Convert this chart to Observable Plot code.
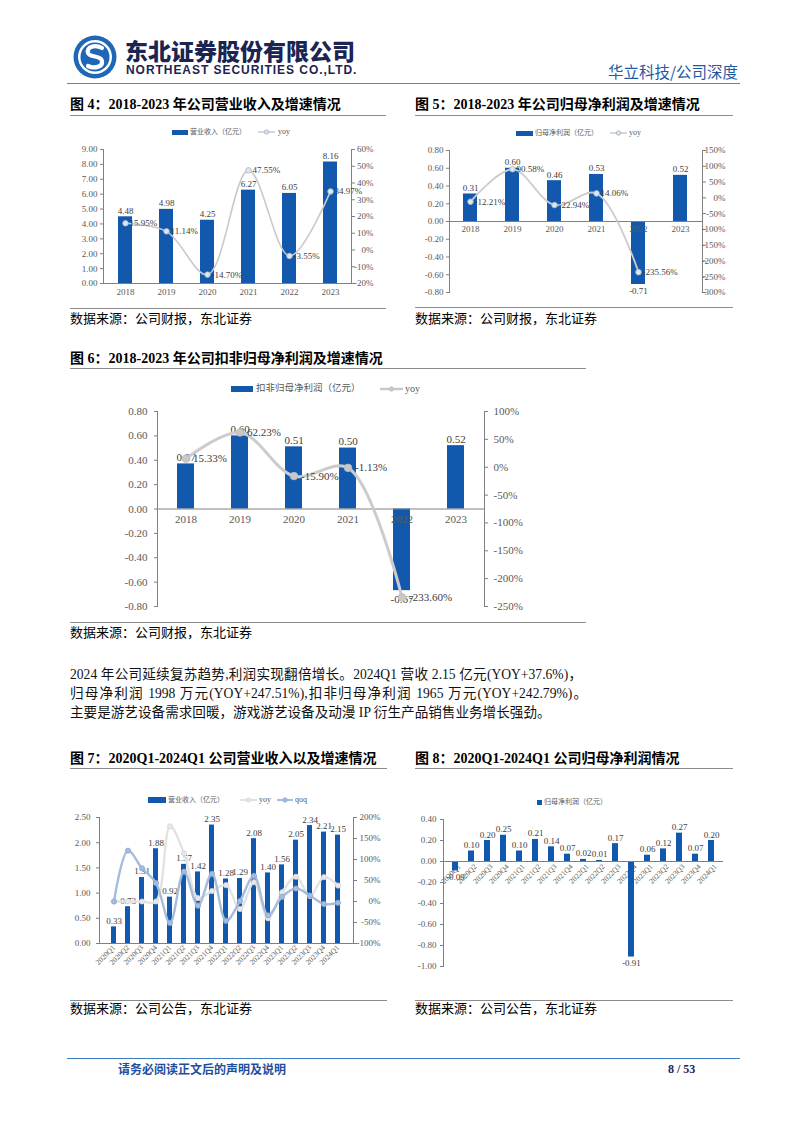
<!DOCTYPE html>
<html>
<head>
<meta charset="utf-8">
<script src="https://cdn.jsdelivr.net/npm/d3@7"></script>
<script src="https://cdn.jsdelivr.net/npm/@observablehq/plot@0.6"></script>
<style>
  html, body { margin: 0; padding: 0; background: #fff; }
  #page { position: relative; width: 802px; height: 1133px; overflow: hidden; background: #fff;
          font-family: "Liberation Serif", "Noto Sans CJK SC", serif; color: #000; }
  .t { position: absolute; white-space: nowrap; }
  .hr { position: absolute; height: 0; }
</style>
</head>
<body>
<div id="page"></div>
<script>
// ---------------- data ----------------
const years = ["2018", "2019", "2020", "2021", "2022", "2023"];
const revenue = [4.48, 4.98, 4.25, 6.27, 6.05, 8.16];
const revenueYoy = [15.95, 11.14, -14.70, 47.55, -3.55, 34.97];

const netProfit = [0.31, 0.60, 0.46, 0.53, -0.71, 0.52];
const yoyYears = ["2018", "2019", "2020", "2021", "2022"];
const netProfitYoy = [-12.21, 90.58, -22.94, 14.06, -235.56];

const deductedProfit = [0.37, 0.60, 0.51, 0.50, -0.67, 0.52];
const deductedYoy = [15.33, 62.23, -15.90, -1.13, -233.60];

const quarters = ["2020Q1", "2020Q2", "2020Q3", "2020Q4", "2021Q1", "2021Q2", "2021Q3", "2021Q4",
  "2022Q1", "2022Q2", "2022Q3", "2022Q4", "2023Q1", "2023Q2", "2023Q3", "2023Q4", "2024Q1"];
const qRevenue = [0.33, 0.73, 1.31, 1.88, 0.92, 1.57, 1.42, 2.35, 1.28, 1.29, 2.08, 1.40, 1.56, 2.05, 2.34, 2.21, 2.15];
const qRevenueYoy = [0, 0, 0, 0, 179, 115, 8, 25, 39, -18, 46, -40, 22, 59, 13, 58, 38];
const qRevenueQoq = [0, 121, 79, 44, -51, 71, -10, 66, -46, 1, 61, -33, 11, 31, 14, -6, -3];
const qNetProfit = [-0.09, 0.10, 0.20, 0.25, 0.10, 0.21, 0.14, 0.07, 0.02, 0.01, 0.17, -0.91, 0.06, 0.12, 0.27, 0.07, 0.20];

// tick labels
const ticksRev = [0, 1, 2, 3, 4, 5, 6, 7, 8, 9];
const ticksRevYoy = [-20, -10, 0, 10, 20, 30, 40, 50, 60];
const ticksProfit = [-0.8, -0.6, -0.4, -0.2, 0, 0.2, 0.4, 0.6, 0.8];
const ticksProfitYoy = [-300, -250, -200, -150, -100, -50, 0, 50, 100, 150];
const ticksDeductedYoy = [-250, -200, -150, -100, -50, 0, 50, 100];
const ticksQRev = [0, 0.5, 1, 1.5, 2, 2.5];
const ticksQRevPct = [-100, -50, 0, 50, 100, 150, 200];
const ticksQProfit = [-1, -0.8, -0.6, -0.4, -0.2, 0, 0.2, 0.4];

// ---------------- helpers ----------------
const FONT = '"Liberation Serif", "Noto Sans CJK SC", serif';
const BLUE = "#1259ae";
const AXIS = "#808080";
const LABEL = "#595959";
const page = document.getElementById("page");

function txt(s, x, yc, size, css) {
  const d = document.createElement("div");
  d.className = "t";
  d.textContent = s;
  d.style.cssText += `left:${x}px;top:${yc - size * 0.62}px;font-size:${size}px;line-height:${size * 1.24}px;` + (css || "");
  page.appendChild(d);
  return d;
}
function hline(x1, x2, y, color, w) {
  const d = document.createElement("div");
  d.className = "hr";
  d.style.cssText += `left:${x1}px;width:${x2 - x1}px;top:${y}px;border-top:${w}px solid ${color};`;
  page.appendChild(d);
}
function put(svg, x, y) {
  svg.style.position = "absolute";
  svg.style.left = x + "px";
  svg.style.top = y + "px";
  page.appendChild(svg);
}
function barSwatch(x, yc, w, h) {
  const d = document.createElement("div");
  d.style.cssText = `position:absolute;left:${x}px;top:${yc - h / 2}px;width:${w}px;height:${h}px;background:${BLUE};`;
  page.appendChild(d);
}
function lineSwatch(x, yc, w, color, dotFill, dotStroke, sw) {
  const ns = "http://www.w3.org/2000/svg";
  const s = document.createElementNS(ns, "svg");
  s.setAttribute("width", w); s.setAttribute("height", 8);
  s.style.cssText = `position:absolute;left:${x}px;top:${yc - 4}px;overflow:visible`;
  s.innerHTML = `<line x1="0" y1="4" x2="${w}" y2="4" stroke="${color}" stroke-width="${sw}"/>` +
    `<circle cx="${w / 2}" cy="4" r="2.2" fill="${dotFill}" stroke="${dotStroke}" stroke-width="0.8"/>`;
  page.appendChild(s);
}

// base chart: bars + left axis
function baseChart(o) {
  const data = o.cats.map((c, i) => ({c, v: o.vals[i]}));
  const marks = [
    Plot.axisY({ticks: o.lTicks, tickFormat: d => d.toFixed(2), tickSize: 3, tickPadding: o.lpad, fill: LABEL, label: null}),
    Plot.frame({anchor: "left", stroke: AXIS})
  ];
  if (o.xMode === "bottom") {
    marks.push(Plot.axisX({tickSize: 0, tickPadding: o.xpad, fill: LABEL, label: null}));
  } else if (o.xMode === "rotBottom") {
    marks.push(Plot.axisX({tickSize: 0, tickPadding: o.xpad, tickRotate: -45, fill: LABEL, fontSize: o.xfs, label: null}));
  } else if (o.xMode === "rotZero") {
    marks.push(Plot.text(data, {x: "c", y: () => 0, text: "c", rotate: -45, textAnchor: "end", dx: 4, dy: 4, fill: LABEL, fontSize: o.xfs}));
  }
  marks.push(Plot.barY(data, {x: "c", y: "v", fill: BLUE}));
  marks.push(Plot.ruleY([0], {stroke: AXIS}));
  if (o.xMode === "zero") {
    marks.push(Plot.text(data, {x: "c", y: () => 0, text: "c", lineAnchor: "top", dy: o.xpad, fill: LABEL}));
  }
  marks.push(Plot.text(data, {filter: d => d.v >= 0, x: "c", y: "v", text: d => d.v.toFixed(2), lineAnchor: "bottom", dy: -3, fill: "#404040"}));
  marks.push(Plot.text(data, {filter: d => d.v < 0, x: "c", y: "v", text: d => d.v.toFixed(2), lineAnchor: "top", dy: o.negDy, fill: "#404040"}));
  const svg = Plot.plot({
    width: o.w, height: o.h, marginLeft: o.ml, marginRight: o.mr, marginTop: o.mt, marginBottom: o.mb,
    style: {fontFamily: FONT, fontSize: o.fs + "px", color: AXIS, background: "transparent", overflow: "visible"},
    x: {type: "band", domain: o.cats, paddingInner: o.pad, paddingOuter: o.pad / 2, label: null, ...(o.xMode === "bottom" || o.xMode === "rotBottom" ? {} : {axis: null})},
    y: {domain: o.lDomain, label: null},
    marks
  });
  put(svg, o.x, o.y);
}

// overlay chart: percentage lines + right axis
function overlayChart(o) {
  const marks = [
    Plot.axisY({anchor: "right", ticks: o.rTicks, tickFormat: d => d + "%", tickSize: 3, tickPadding: o.rpad, textAnchor: o.rAnchor, fill: LABEL, label: null}),
    Plot.frame({anchor: "right", stroke: AXIS})
  ];
  for (const s of o.series) {
    const data = s.cats.map((c, i) => ({c, v: s.vals[i]}));
    marks.push(Plot.line(data, {x: "c", y: "v", curve: "catmull-rom", stroke: s.color, strokeWidth: s.sw}));
    marks.push(Plot.dot(data, {x: "c", y: "v", r: s.r, fill: s.dotFill, stroke: s.dotStroke, strokeWidth: 0.8}));
    if (s.labels) {
      marks.push(Plot.text(data, {x: "c", y: "v", text: d => d.v.toFixed(2) + "%", textAnchor: "start", dx: s.ldx, fill: "#404040"}));
    }
  }
  const svg = Plot.plot({
    width: o.w, height: o.h, marginLeft: o.ml, marginRight: o.mr, marginTop: o.mt, marginBottom: o.mb,
    style: {fontFamily: FONT, fontSize: o.fs + "px", color: AXIS, background: "transparent", overflow: "visible"},
    x: {type: "band", domain: o.cats, paddingInner: o.pad, paddingOuter: o.pad / 2, axis: null, label: null},
    y: {domain: o.rDomain, label: null},
    marks
  });
  put(svg, o.x, o.y);
}

// ---------------- header ----------------
(function header() {
  const ns = "http://www.w3.org/2000/svg";
  const s = document.createElementNS(ns, "svg");
  s.setAttribute("width", 44); s.setAttribute("height", 44);
  s.style.cssText = "position:absolute;left:73px;top:35px";
  s.innerHTML = `<circle cx="22" cy="22" r="21.5" fill="#1f66b6"/>
    <circle cx="22" cy="22" r="17" fill="#fff"/>
    <circle cx="22" cy="22" r="14.5" fill="#1f66b6"/>
    <path d="M29 13 C22 9 13 12 15 18 C17 23 28 20 29 26 C30 32 21 34 15 31" stroke="#fff" stroke-width="4.2" fill="none" stroke-linecap="round"/>`;
  page.appendChild(s);
  txt("东北证券股份有限公司", 125, 52.5, 23, 'font-family:"Noto Sans CJK SC";font-weight:900;color:#1b2452;letter-spacing:0px;line-height:24px;');
  txt("NORTHEAST SECURITIES CO.,LTD.", 126, 71.5, 12, 'font-family:"Liberation Sans";font-weight:bold;color:#1b2452;letter-spacing:0.95px;line-height:13px;');
  txt("华立科技/公司深度", 608, 72, 15.5, 'font-family:"Noto Sans CJK SC";color:#1f5aa6;');
  hline(67, 740, 83, "#4a86c8", 1.5);
})();

// ---------------- titles, rules, sources ----------------
const TITLE_CSS = 'font-family:"Liberation Serif","Noto Sans CJK SC";font-weight:bold;color:#000;';
const SRC_CSS = 'font-family:"Liberation Serif","Noto Sans CJK SC";color:#000;';

txt("图 4：2018-2023 年公司营业收入及增速情况", 70, 105, 14, TITLE_CSS);
hline(70, 386, 115, "#8c8c8c", 1);
hline(70, 386, 308, "#8c8c8c", 1);
txt("数据来源：公司财报，东北证券", 70, 319, 13, SRC_CSS);

txt("图 5：2018-2023 年公司归母净利润及增速情况", 415, 105, 14, TITLE_CSS);
hline(415, 733, 115, "#8c8c8c", 1);
hline(415, 733, 307, "#8c8c8c", 1);
txt("数据来源：公司财报，东北证券", 415, 319, 13, SRC_CSS);

txt("图 6：2018-2023 年公司扣非归母净利润及增速情况", 70, 359, 14, TITLE_CSS);
hline(70, 586, 368, "#8c8c8c", 1);
hline(70, 586, 622, "#8c8c8c", 1);
txt("数据来源：公司财报，东北证券", 70, 633, 13, SRC_CSS);

txt("图 7：2020Q1-2024Q1 公司营业收入以及增速情况", 70, 759, 14, TITLE_CSS);
hline(70, 387, 768, "#8c8c8c", 1);
hline(70, 387, 1000, "#8c8c8c", 1);
txt("数据来源：公司公告，东北证券", 70, 1009, 13, SRC_CSS);

txt("图 8：2020Q1-2024Q1 公司归母净利润情况", 415, 759, 14, TITLE_CSS);
hline(415, 733, 768, "#8c8c8c", 1);
hline(415, 733, 1000, "#8c8c8c", 1);
txt("数据来源：公司公告，东北证券", 415, 1009, 13, SRC_CSS);

// ---------------- paragraph ----------------
(function para() {
  const lines = [
    ["2024 年公司延续复苏趋势,利润实现翻倍增长。2024Q1 营收 2.15 亿元(YOY+37.6%)，", 675, 512, true],
    ["归母净利润 1998 万元(YOY+247.51%),扣非归母净利润 1965 万元(YOY+242.79%)。", 694, 517, true],
    ["主要是游艺设备需求回暖，游戏游艺设备及动漫 IP 衍生产品销售业务增长强劲。", 713, 0, false]
  ];
  for (const [s, y, w, j] of lines) {
    const d = txt(s, 70, y, 13.6, 'font-family:"Liberation Serif","Noto Sans CJK SC";color:#111;');
    if (j) d.style.cssText += `width:${w}px;white-space:normal;text-align:justify;text-align-last:justify;`;
  }
})();

// ---------------- legends ----------------
const LEG = 'color:#595959;font-family:"Liberation Serif","Noto Sans CJK SC";';
// fig 4
barSwatch(172, 132, 16, 5);
txt("营业收入（亿元）", 190, 132, 7, LEG);
lineSwatch(258, 132, 17, "#c8c8c8", "#dde4ee", "#9fb2cc", 1.5);
txt("yoy", 278, 132, 8, LEG);
// fig 5
barSwatch(516, 133, 17, 5);
txt("归母净利润（亿元）", 535, 133, 7, LEG);
lineSwatch(610, 133, 17, "#c8c8c8", "#dde4ee", "#9fb2cc", 1.5);
txt("yoy", 629, 133, 8, LEG);
// fig 6
barSwatch(231, 389, 22, 6);
txt("扣非归母净利润（亿元）", 256, 389, 9.5, LEG);
lineSwatch(380, 389, 23, "#c8c8c8", "#c8c8c8", "#c0c0c0", 2.5);
txt("yoy", 405, 389, 10, LEG);
// fig 7
barSwatch(148, 800, 18, 6);
txt("营业收入（亿元）", 168, 800, 7, LEG);
lineSwatch(240, 800, 17, "#e2e2e2", "#e6e6e6", "#d8d8d8", 2);
txt("yoy", 259, 800, 8, LEG);
lineSwatch(277, 800, 16, "#a4bcdd", "#a4bcdd", "#8fa9cf", 2);
txt("qoq", 295, 800, 8, LEG);
// fig 8
barSwatch(537, 802, 5, 5);
txt("归母净利润（亿元）", 544, 802, 7, LEG);

// ---------------- charts ----------------
// Fig 4
const f4 = {x: 70, y: 140, w: 320, h: 165, ml: 33, mr: 39, mt: 9, mb: 22, fs: 9, pad: 0.66, cats: years};
baseChart({...f4, vals: revenue, lDomain: [0, 9], lTicks: ticksRev, lpad: 3, xMode: "bottom", xpad: 5, negDy: 3});
overlayChart({...f4, rDomain: [-20, 60], rTicks: ticksRevYoy, rpad: 19, rAnchor: "end",
  series: [{cats: years, vals: revenueYoy, color: "#c9c9c9", sw: 1.6, r: 2.8, dotFill: "#dfe6f0", dotStroke: "#a3b5cd", labels: true, ldx: 4}]});

// Fig 5
const f5 = {x: 415, y: 140, w: 320, h: 165, ml: 34, mr: 33, mt: 10, mb: 13, fs: 9, pad: 0.66, cats: years};
baseChart({...f5, vals: netProfit, lDomain: [-0.8, 0.8], lTicks: ticksProfit, lpad: 3, xMode: "zero", xpad: 4, negDy: 3});
overlayChart({...f5, rDomain: [-300, 150], rTicks: ticksProfitYoy, rpad: 20, rAnchor: "end",
  series: [{cats: yoyYears, vals: netProfitYoy, color: "#cdcdcd", sw: 1.8, r: 2.8, dotFill: "#dfe6f0", dotStroke: "#a3b5cd", labels: true, ldx: 4}]});

// Fig 6
const f6 = {x: 70, y: 400, w: 515, h: 215, ml: 87, mr: 101, mt: 11, mb: 9, fs: 11, pad: 0.68, cats: years};
baseChart({...f6, vals: deductedProfit, lDomain: [-0.8, 0.8], lTicks: ticksProfit, lpad: 7, xMode: "zero", xpad: 6, negDy: 5});
overlayChart({...f6, rDomain: [-250, 100], rTicks: ticksDeductedYoy, rpad: 6, rAnchor: "start",
  series: [{cats: yoyYears, vals: deductedYoy, color: "#cccccc", sw: 3, r: 3.8, dotFill: "#c8c8c8", dotStroke: "#bdbdbd", labels: true, ldx: 7}]});

// Fig 7
const f7 = {x: 70, y: 810, w: 320, h: 165, ml: 29, mr: 37, mt: 7, mb: 32, fs: 9, pad: 0.64, cats: quarters};
baseChart({...f7, vals: qRevenue, lDomain: [0, 2.5], lTicks: ticksQRev, lpad: 6, xMode: "rotBottom", xpad: 3, xfs: 7.5, negDy: 3});
overlayChart({...f7, rDomain: [-100, 200], rTicks: ticksQRevPct, rpad: 24, rAnchor: "end",
  series: [
    {cats: quarters, vals: qRevenueYoy, color: "#e3e3e3", sw: 2.4, r: 2.6, dotFill: "#e8e8e8", dotStroke: "#d4d4d4", labels: false},
    {cats: quarters, vals: qRevenueQoq, color: "#a4bcdd", sw: 2.4, r: 2.6, dotFill: "#a4bcdd", dotStroke: "#8ea8cf", labels: false}
  ]});

// Fig 8
const f8 = {x: 415, y: 810, w: 320, h: 165, ml: 28, mr: 12, mt: 9, mb: 9, fs: 9, pad: 0.64, cats: quarters};
baseChart({...f8, vals: qNetProfit, lDomain: [-1, 0.4], lTicks: ticksQProfit, lpad: 4, xMode: "rotZero", xfs: 7.5, negDy: 3});

// ---------------- footer ----------------
hline(67, 740, 1058, "#3c7dc4", 1.5);
txt("请务必阅读正文后的声明及说明", 118, 1069, 12, 'font-family:"Noto Sans CJK SC";font-weight:bold;color:#1f4e9c;');
txt("8 / 53", 668, 1069, 12, 'font-family:"Liberation Serif";font-weight:bold;color:#1b2452;');
</script>
</body>
</html>
